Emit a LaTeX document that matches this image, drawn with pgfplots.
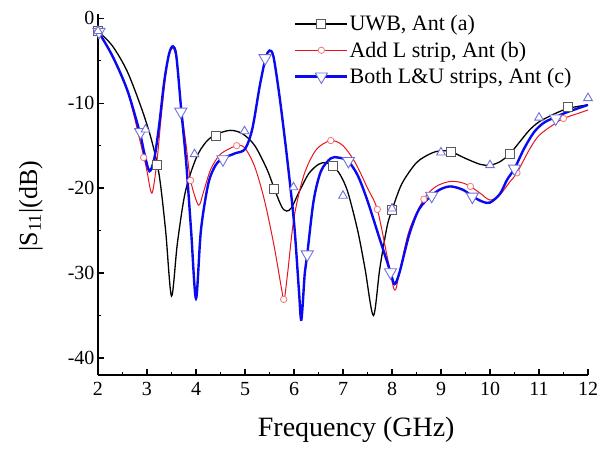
\documentclass[border=0pt]{standalone}
\usepackage{fontspec}
\setmainfont{Liberation Serif}
\usepackage{pgfplots}
\pgfplotsset{compat=1.18}
\definecolor{mkgray}{HTML}{5A5A5A}
\definecolor{redline}{HTML}{E8141E}
\definecolor{redmk}{HTML}{F07878}
\definecolor{blueline}{HTML}{0A0AF0}
\definecolor{bluemk}{HTML}{7070DC}
\begin{document}
\begin{tikzpicture}
\useasboundingbox (-98pt,-73pt) rectangle (512pt,375pt);
\begin{axis}[
 at={(0pt,0pt)}, anchor=south west,
 scale only axis, width=490pt, height=361pt,
 xmin=2, xmax=12, ymin=-42, ymax=0.5,
 axis x line=bottom, axis y line=left,
 axis line style={-, line width=1.6pt},
 xtick={2,...,12}, ytick={-40,-30,-20,-10,0},
 minor x tick num=1, minor y tick num=1,
 tick align=inside, major tick length=6pt, minor tick length=3.5pt,
 tick style={line width=1.3pt, black},
 ticklabel style={font=\fontsize{20}{24}\selectfont},
 xticklabel style={yshift=-4pt},
 /pgf/number format/assume math mode=true,
 xlabel={Frequency (GHz)},
 ylabel={|S\textsubscript{11}|(dB)},
 xlabel style={font=\fontsize{28}{32}\selectfont, at={(axis description cs:0.527,-0.152)}, anchor=center},
 ylabel style={font=\fontsize{26}{30}\selectfont, at={(axis description cs:-0.137,0.468)}, anchor=center},
 legend style={at={(axis cs:6.0,0.45)}, anchor=north west, draw=none, fill=none,
   font=\fontsize{22}{26}\selectfont, row sep=7.5pt, inner sep=0pt,
   nodes={inner sep=1pt}},
 legend cell align=left,
 legend image code/.code={\draw[#1, mark repeat=2, mark phase=2] plot coordinates {(0pt,0pt) (26pt,0pt) (52pt,0pt)};},
]
\addlegendimage{black, line width=1.3pt, mark=square*, mark size=4.5pt, mark options={draw=mkgray, fill=white, line width=0.9pt}}
\addlegendentry{UWB, Ant (a)}
\addlegendimage{redline, line width=1.0pt, mark=*, mark size=3.2pt, mark options={draw=redmk, fill=white, line width=0.8pt}}
\addlegendentry{Add L strip, Ant (b)}
\addlegendimage{blueline, line width=2.4pt, mark=triangle*, mark size=7pt, mark options={draw=bluemk, fill=white, line width=0.9pt, rotate=180}}
\addlegendentry{Both L\&U strips, Ant (c)}

% Ant (a)
\addplot[black, line width=1.3pt, smooth, tension=0.5, forget plot] coordinates {
(2.0,-1.5) (2.3,-3.3) (2.6,-6.3) (2.9,-10.8) (3.1,-14.5) (3.25,-18.5) (3.38,-25) (3.5,-32.7)
(3.62,-26.5) (3.78,-20.5) (4.0,-16.5) (4.2,-14.6) (4.4,-13.7) (4.7,-13.2) (4.95,-13.6)
(5.2,-15) (5.45,-17.8) (5.6,-20.1) (5.75,-22.2) (5.85,-22.7) (5.95,-22.3) (6.1,-20.5)
(6.3,-18.3) (6.5,-17.2) (6.65,-17.0) (6.8,-17.4) (6.95,-18.5) (7.1,-20.5) (7.3,-25)
(7.45,-29.5) (7.62,-35) (7.75,-29.5) (7.9,-24.5) (8.0,-22.6) (8.2,-19.5) (8.5,-17)
(8.8,-15.9) (9.0,-15.6) (9.2,-15.7) (9.5,-16.5) (9.8,-17.2) (10.0,-17.3) (10.2,-16.9)
(10.4,-16.0) (10.6,-14.6) (10.8,-13.2) (11.0,-12.2) (11.3,-11.3) (11.6,-10.6) (12.0,-10.2)};
\addplot[only marks, mark=square*, mark size=4.5pt, mark options={draw=mkgray, fill=white, line width=0.9pt}, forget plot] coordinates {
(2.0,-1.5) (3.2,-17.3) (4.4,-13.8) (5.6,-20.1) (6.8,-17.4) (8.0,-22.6) (9.2,-15.7) (10.4,-16.0) (11.6,-10.5)};

% Ant (b)
\addplot[redline, line width=1.0pt, smooth, tension=0.5, forget plot] coordinates {
(2.0,-1.5) (2.3,-4.5) (2.6,-8.5) (2.93,-16.2) (3.0,-18) (3.1,-20.6) (3.2,-17) (3.3,-11)
(3.42,-5) (3.52,-3.5) (3.6,-4.8) (3.7,-10.5) (3.8,-15) (3.89,-19.1) (4.05,-22) (4.15,-20.5)
(4.3,-17.8) (4.5,-16) (4.83,-15.0) (5.0,-15.3) (5.2,-17.5) (5.4,-21.5) (5.6,-27) (5.75,-32)
(5.8,-33.1) (5.87,-30) (6.0,-23.5) (6.2,-18.5) (6.45,-15.5) (6.75,-14.4) (7.0,-15)
(7.25,-17) (7.5,-20) (7.7,-22.5) (7.9,-28) (8.05,-32) (8.15,-30) (8.35,-25) (8.65,-21.3)
(8.9,-19.8) (9.2,-19.2) (9.45,-19.4) (9.6,-19.8) (9.8,-20.6) (10.0,-21.4) (10.2,-20.8)
(10.4,-19.3) (10.55,-18.2) (10.8,-15.5) (11.0,-13.8) (11.3,-12.5) (11.5,-11.8) (11.8,-11.2) (12.0,-10.8)};
\addplot[only marks, mark=*, mark size=3.2pt, mark options={draw=redmk, fill=white, line width=0.8pt}, forget plot] coordinates {
(2.93,-16.4) (3.89,-19.1) (4.83,-15.0) (5.79,-33.1) (6.75,-14.4) (7.7,-22.5) (8.65,-21.3) (9.6,-19.8) (10.55,-18.2) (11.5,-11.8)};

% Ant (c)
\addplot[blueline, line width=2.4pt, smooth, tension=0.5, forget plot] coordinates {
(2.0,-1.5) (2.3,-4.5) (2.6,-8.5) (2.85,-13.4) (2.95,-16) (3.05,-18) (3.15,-16.5) (3.25,-12.5)
(3.35,-7.5) (3.45,-4.2) (3.53,-3.3) (3.6,-4.5) (3.7,-10.9) (3.8,-17) (3.9,-25) (4.0,-33)
(4.1,-25) (4.25,-19.5) (4.4,-17.3) (4.55,-16.5) (4.8,-15.9) (5.0,-15.4) (5.15,-13) (5.3,-8)
(5.42,-4.7) (5.5,-3.8) (5.58,-4.5) (5.7,-9) (5.85,-16) (6.0,-24) (6.1,-32) (6.15,-35.5)
(6.22,-30) (6.27,-27.8) (6.4,-21.5) (6.55,-18) (6.75,-16.5) (6.9,-16.4) (7.1,-16.8)
(7.3,-18.5) (7.5,-21.5) (7.75,-26) (7.97,-29.9) (8.05,-31.3) (8.15,-30) (8.35,-25.5)
(8.55,-22.5) (8.8,-20.9) (9.0,-20.1) (9.2,-19.8) (9.45,-20.2) (9.65,-21.0) (9.85,-21.6)
(10.0,-21.7) (10.2,-20.7) (10.35,-19) (10.5,-17.7) (10.7,-15.3) (10.9,-13.4) (11.1,-12.3)
(11.35,-11.6) (11.6,-11) (12.0,-10.2)};
\addplot[only marks, mark=triangle*, mark size=7pt, mark options={draw=bluemk, fill=white, line width=0.9pt, rotate=180}, forget plot] coordinates {
(2.02,-1.6) (2.87,-13.4) (3.69,-11.0) (4.55,-16.6) (5.41,-4.7) (6.27,-27.8) (7.11,-16.8) (7.97,-29.9) (8.81,-20.9) (9.64,-21.0) (10.5,-17.7) (11.34,-11.8)};

% measured points
\addplot[only marks, mark=triangle*, mark size=5pt, mark options={draw=bluemk, fill=white, line width=0.9pt}, forget plot] coordinates {
(2.0,-1.5) (2.97,-13.1) (3.97,-16.0) (4.99,-13.3) (5.99,-19.9) (7.0,-20.9) (8.0,-22.4) (9.0,-15.8) (10.0,-17.3) (11.0,-11.7) (12.0,-9.4)};
\end{axis}
\end{tikzpicture}
\end{document}
